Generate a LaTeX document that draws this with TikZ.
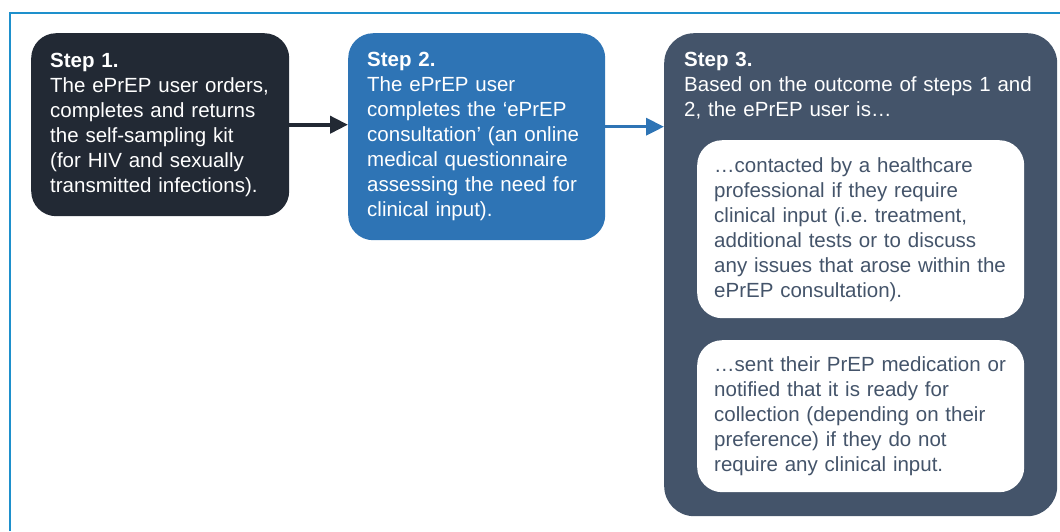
\documentclass[tikz,border=0pt]{standalone}
\usepackage{fontspec}
\setmainfont{Liberation Sans}
\usetikzlibrary{arrows.meta}
\definecolor{stepdark}{RGB}{34,41,52}
\definecolor{stepblue}{RGB}{46,116,181}
\definecolor{stepslate}{RGB}{68,84,106}
\definecolor{frameblue}{RGB}{30,144,204}
\frenchspacing

\begin{document}
\begin{tikzpicture}[x=1pt,y=1pt,yscale=-1,xscale=1,
  stepbox/.style={rounded corners=25pt, anchor=north west, inner ysep=0pt, inner xsep=19pt, align=left, text=white, font=\fontsize{20.5}{25}\selectfont},
  outbox/.style={rounded corners=25pt, anchor=north west, inner ysep=0pt, inner xsep=17pt, align=left, fill=white, text=stepslate, text width=293pt, minimum height=#1, font=\fontsize{20.5}{25}\selectfont},
  steparrow/.style={line width=#1, -{Triangle[length=18pt,width=17pt]}}]
\useasboundingbox (0,0) rectangle (1060,531);

%Frame lines
\coordinate (fbot) at (10,531);
\coordinate (fcorner) at (10,13);
\coordinate (fright) at (1060,13);
\draw [color=frameblue, line width=2pt] (fbot) -- (fcorner) -- (fright) ;

%Shape: Step 1
\node [stepbox, fill=stepdark, text width=220pt, minimum height=183pt] (step1) at (31,33)
  {\textbf{Step 1.}\\The ePrEP user orders,\\completes and returns\\the self-sampling kit\\(for HIV and sexually\\transmitted infections).};
%Shape: Step 2
\node [stepbox, fill=stepblue, text width=219pt, minimum height=207pt] (step2) at (348,33)
  {\textbf{Step 2.}\\The ePrEP user\\completes the `ePrEP\\consultation' (an online\\medical questionnaire\\assessing the need for\\clinical input).};
%Shape: Step 3
\node [stepbox, fill=stepslate, rounded corners=30pt, minimum width=393pt, minimum height=483pt, inner sep=0pt] (step3) at (664,33) {};
% Text Node
\node [stepbox, inner sep=0pt, text width=360pt] (step3title) at (684,52)
  {\textbf{Step 3.}\\Based on the outcome of steps 1 and\\2, the ePrEP user is\dots};

%Shape: Outcomes
\node [outbox=178pt] (outa) at (697,140)
  {\dots contacted by a healthcare\\professional if they require\\clinical input (i.e. treatment,\\additional tests or to discuss\\any issues that arose within the\\ePrEP consultation).};
\node [outbox=152pt] (outb) at (697,340)
  {\dots sent their PrEP medication or\\notified that it is ready for\\collection (depending on their\\preference) if they do not\\require any clinical input.};

%Arrows
\draw [steparrow=4pt, color=stepdark] (step1.east) -- (step2.west |- step1.east) ;
\draw [steparrow=3.5pt, color=stepblue] ([yshift=2pt]step2.east |- step1.east) -- ([yshift=2pt]step3.west |- step1.east) ;

\end{tikzpicture}
\end{document}
